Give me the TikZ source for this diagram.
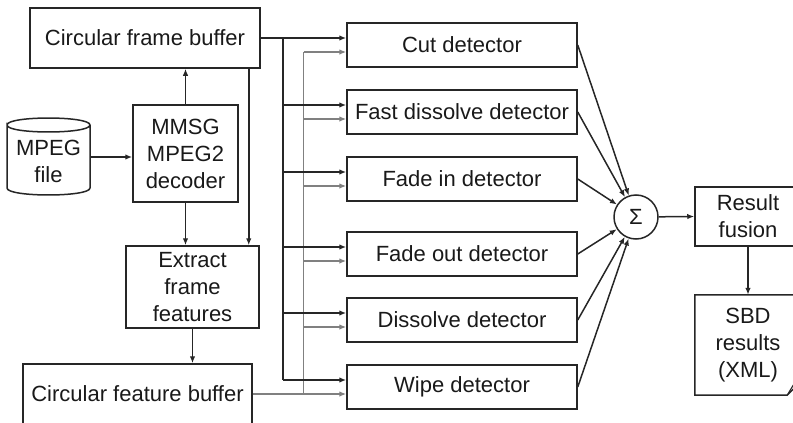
\documentclass[tikz,border=0pt]{standalone}
\usepackage{fontspec}
\setmainfont{Liberation Sans}
\usetikzlibrary{arrows.meta,calc}

\begin{document}
\begin{tikzpicture}[x=1pt,y=-1pt,
  edge/.style={draw=black!85,line width=1.5pt},
  box/.style={edge,rectangle,align=center,text=black!90,
    font=\fontsize{22}{27}\selectfont,inner sep=0pt},
  plain/.style={rectangle,align=center,text=black!90,
    font=\fontsize{22}{27}\selectfont,inner sep=0pt},
  det/.style={box,minimum width=230pt,minimum height=44pt},
  blk/.style={draw=black!85,line width=1.5pt,-{Latex[length=7pt,width=5.5pt]}},
  blkline/.style={draw=black!85,line width=1.5pt},
  gry/.style={draw=black!50,line width=1.3pt,-{Latex[length=7pt,width=5.5pt]}},
  gryline/.style={draw=black!50,line width=1.3pt}]
\useasboundingbox (0,0) rectangle (793,423);

% sources and buffers
\node[box,minimum width=230pt,minimum height=60pt] (fb) at (145,38) {Circular frame buffer};
\node[plain,minimum width=83pt,minimum height=77pt] (mpeg) at (48.5,157) {};
\node[plain] at (48.5,161) {MPEG\\file};
\node[box,minimum width=105pt,minimum height=97pt] (dec) at (185.5,153.5) {MMSG\\MPEG2\\decoder};
\node[box,minimum width=133pt,minimum height=82pt] (ext) at (192.5,287) {Extract\\frame\\features};
\node[box,minimum width=229pt,minimum height=60pt] (cfb) at (137.5,394) {Circular feature buffer};

% disk symbol for the input file
\draw[edge] (7,125) .. controls (7,115.7) and (90,115.7) .. (90,125)
            .. controls (90,134.3) and (7,134.3) .. (7,125) -- (7,188)
            .. controls (7,197.3) and (90,197.3) .. (90,188) -- (90,125);

% detectors
\node[det] (cut) at (462,45) {Cut detector};
\node[det] (fast) at (462,112) {Fast dissolve detector};
\node[det] (fadein) at (462,179) {Fade in detector};
\node[det] (fadeout) at (462,254) {Fade out detector};
\node[det] (diss) at (462,320) {Dissolve detector};
\node[det] (wipe) at (462,387) {Wipe detector};

% fusion stage
\node[edge,circle,minimum size=44pt,inner sep=0pt,text=black!90,
      font=\fontsize{22}{22}\selectfont] (sig) at (636,217) {Σ};
\node[box,minimum width=106pt,minimum height=59pt] (rf) at (748,216.5) {Result\\fusion};
\node[plain,minimum width=106pt,minimum height=100pt] (sbd) at (748,345) {SBD\\results\\(XML)};
\draw[edge] (sbd.south west) -- (sbd.north west) -- (sbd.north east)
  -- ($(sbd.south east)+(0,-14)$) -- ($(sbd.south east)+(-14,0)$) -- cycle;
\draw[edge,line width=1.1pt] ($(sbd.south east)+(-14,0)$) -- ($(sbd.south east)+(-8,-10)$)
  -- ($(sbd.south east)+(0,-14)$);

% entry points on the detectors
\foreach \d in {cut,fast,fadein,fadeout,diss,wipe}{
  \coordinate (\d-b) at ($(\d.west)+(0,-7)$);
  \coordinate (\d-g) at ($(\d.west)+(0,7)$);
}
\coordinate (bb) at ($(fb.east)+(22,0)$);
\coordinate (gb) at ($(fb.east)+(43,0)$);

% feature bus (grey)
\draw[gryline] (gb |- cut-g) -- (gb |- wipe-g);
\foreach \d in {cut,fast,fadein,fadeout,diss}{
  \draw[gry] (gb |- \d-g) -- (\d-g);
}
\draw[gry] (cfb.east) -- (cfb.east -| wipe.west);

% frame bus (black)
\draw[blk] (fb.east) -- (fb.east -| cut.west);
\draw[blkline] (bb) -- (bb |- wipe-b);
\foreach \d in {fast,fadein,fadeout,diss,wipe}{
  \draw[blk] (bb |- \d-b) -- (\d-b);
}

% processing chain on the left
\draw[blk] (mpeg.east) -- (mpeg.east -| dec.west);
\draw[blk] (dec.north) -- (dec.north |- fb.south);
\draw[blk] (dec.south) -- (dec.south |- ext.north);
\coordinate (fbtap) at ($(fb.south east)+(-12,0)$);
\draw[blk] (fbtap) -- (fbtap |- ext.north);
\draw[blk] (ext.south) -- (ext.south |- cfb.north);

% detector outputs into the summation
\foreach \d in {cut,fast,fadein,fadeout,diss,wipe}{
  \draw[blk] (\d.east) -- (sig);
}
\draw[blk] (sig) -- (rf.west);
\draw[blk] (rf.south) -- (rf.south |- sbd.north);
\end{tikzpicture}
\end{document}
